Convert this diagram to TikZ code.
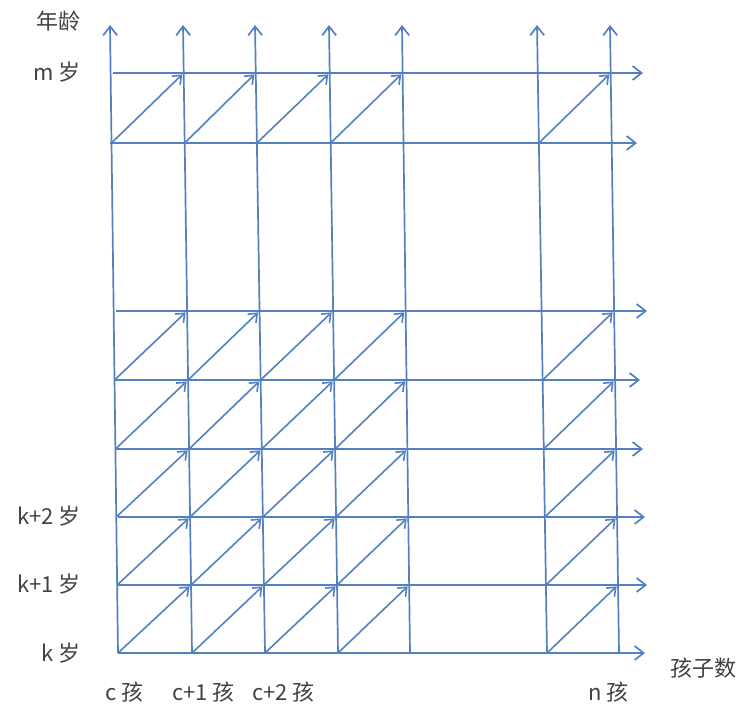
\documentclass[tikz,border=0pt]{standalone}
\usepackage{fontspec}
\setmainfont{Noto Sans CJK SC}
\usetikzlibrary{arrows.meta,calc}
\definecolor{gridblue}{RGB}{82,128,192}
\definecolor{labelgray}{RGB}{65,65,65}
\begin{document}
\begin{tikzpicture}[x=1pt,y=-1pt,
  gridarrow/.style={draw=gridblue,line width=1.7pt,
    -{Straight Barb[length=9pt,width=14pt,line width=1.7pt]}},
  diagarrow/.style={draw=gridblue,line width=1.6pt,shorten >=2pt,
    -{Straight Barb[length=7.5pt,width=12pt,line width=1.6pt]}},
  lbl/.style={inner sep=0pt,text=labelgray,font=\fontsize{22}{22}\selectfont}]
\useasboundingbox (0,0) rectangle (746,711);
% columns: index/top x/bottom x
\def\cols{1/110/118,2/183/192,3/255/265,4/329/338,5/402/410,6/537/547,7/610/619}
\foreach \i/\t/\b in \cols {
  \coordinate (ct\i) at (\t,25);
  \coordinate (cb\i) at (\b,653);
}
% rows: index/y/left x/right x
\def\rows{1/73/113/643,2/143/110/637,3/311/116/647,4/380/115/640,5/449/116/643,6/517/118/645,7/585/118/647,8/653/118/645}
\foreach \j/\y/\l/\r in \rows {
  \coordinate (rl\j) at (\l,\y);
  \coordinate (rr\j) at (\r,\y);
  \foreach \i/\t/\b in \cols {
    \pgfmathsetmacro\xx{\t+(\b-\t)*(\y-25)/628}
    \coordinate (p\i-\j) at (\xx,\y);
  }
}
% vertical axes
\foreach \i/\t/\b in \cols { \draw[gridarrow] (cb\i) -- (ct\i); }
% horizontal lines
\foreach \j/\y/\l/\r in \rows { \draw[gridarrow] (rl\j) -- (rr\j); }
% diagonals
\foreach \j/\k in {2/1,4/3,5/4,6/5,7/6,8/7} {
  \foreach \i/\n in {1/2,2/3,3/4,4/5,6/7} {
    \draw[diagarrow] (p\i-\j) -- (p\n-\k);
  }
}
% labels
\node[lbl,anchor=base east] (age) at (81,30) {年龄};
\node[lbl,anchor=base east] (lm) at (81,81) {m 岁};
\node[lbl,anchor=base east] (lk2) at (81,524) {k+2 岁};
\node[lbl,anchor=base east] (lk1) at (81,592) {k+1 岁};
\node[lbl,anchor=base east] (lk) at (81,661) {k 岁};
\node[lbl,anchor=base west] (bc) at (105,700) {c 孩};
\node[lbl,anchor=base west] (bc1) at (172,700) {c+1 孩};
\node[lbl,anchor=base west] (bc2) at (252,700) {c+2 孩};
\node[lbl,anchor=base west] (bn) at (588,700) {n 孩};
\node[lbl,anchor=base west] (kids) at (670,676) {孩子数};
\end{tikzpicture}
\end{document}
